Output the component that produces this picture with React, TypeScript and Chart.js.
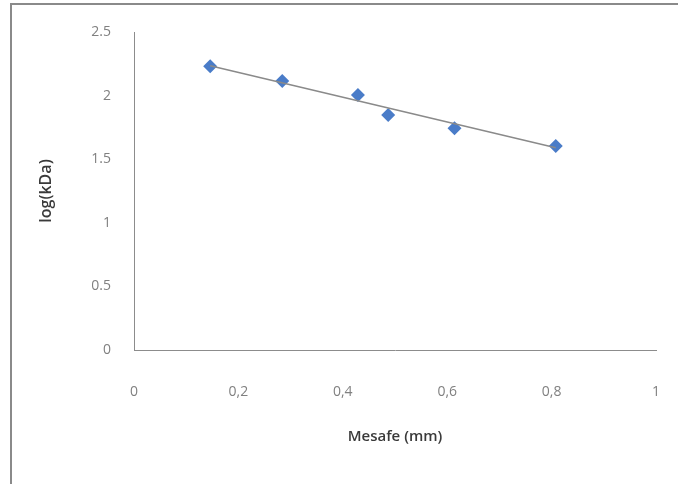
import React, { useEffect, useRef } from "react";
import { Chart, registerables } from "chart.js";

Chart.register(...registerables);

const distanceMm = [0.146, 0.284, 0.429, 0.487, 0.614, 0.808];
const logKDa = [2.23, 2.115, 2.005, 1.847, 1.743, 1.604];
const trendX = [0.146, 0.808];
const trendY = [2.235, 1.59];
const xTickLabels = ["0", "0,2", "0,4", "0,6", "0,8", "1"];
const yTickLabels = ["0", "0.5", "1", "1.5", "2", "2.5"];

const FONT = "'Open Sans', 'DejaVu Sans', sans-serif";

export default function App() {
  const ref = useRef<HTMLCanvasElement>(null);
  useEffect(() => {
    document.body.style.margin = "0";
    const canvas = ref.current;
    if (!canvas) return;
    const chart = new Chart(canvas, {
      type: "scatter",
      data: {
        datasets: [
          {
            label: "log(kDa)",
            data: distanceMm.map((x, i) => ({ x, y: logKDa[i] })),
            pointStyle: "rectRot",
            pointRadius: 7,
            pointHoverRadius: 7,
            backgroundColor: "#4a7cc8",
            borderColor: "#4a7cc8",
            borderWidth: 0,
            showLine: false,
            order: 2,
          },
          {
            label: "trend",
            data: trendX.map((x, i) => ({ x, y: trendY[i] })),
            showLine: true,
            pointRadius: 0,
            borderColor: "#8a8a8a",
            borderWidth: 1.5,
            order: 1,
          },
        ],
      },
      options: {
        responsive: false,
        animation: false,
        devicePixelRatio: 1,
        layout: { padding: { left: 0, top: 32, right: 22, bottom: 0 } },
        plugins: {
          legend: { display: false },
          tooltip: { enabled: false },
        },
        scales: {
          x: {
            type: "linear",
            min: 0,
            max: 1,
            afterFit: (s: any) => {
              s.height = 134;
              s.paddingLeft = 0;
              s.paddingRight = 0;
            },
            afterBuildTicks: (s: any) => {
              s.ticks = xTickLabels.map((_, i) => ({ value: i * 0.2 }));
            },
            grid: { display: false, drawTicks: false },
            border: { display: true, color: "#8c8c8c", width: 1 },
            ticks: {
              padding: 34,
              color: "#808080",
              font: { family: FONT, size: 14 },
              maxRotation: 0,
              autoSkip: false,
              callback: (_v: any, i: number) => xTickLabels[i],
            },
            title: {
              display: true,
              text: "Mesafe (mm)",
              color: "#3a3a3a",
              font: { family: FONT, size: 15, weight: "600" },
              padding: { top: 0, bottom: 38 },
            },
          },
          y: {
            type: "linear",
            min: 0,
            max: 2.5,
            afterFit: (s: any) => {
              s.width = 134;
              s.paddingTop = 0;
              s.paddingBottom = 0;
            },
            afterBuildTicks: (s: any) => {
              s.ticks = yTickLabels.map((_, i) => ({ value: i * 0.5 }));
            },
            grid: { display: false, drawTicks: false },
            border: { display: true, color: "#8c8c8c", width: 1 },
            ticks: {
              padding: 23,
              color: "#808080",
              font: { family: FONT, size: 14 },
              autoSkip: false,
              callback: (_v: any, i: number) => yTickLabels[i],
            },
            title: {
              display: true,
              text: "log(kDa)",
              color: "#3a3a3a",
              font: { family: FONT, size: 16, weight: "600" },
              padding: { top: 37, bottom: 0 },
            },
          },
        },
      },
    });
    return () => chart.destroy();
  }, []);

  return (
    <div style={{ position: "relative", width: 678, height: 484, background: "#fff" }}>
      <canvas ref={ref} width={678} height={484} style={{ display: "block" }} />
      <div
        style={{
          position: "absolute",
          left: 10,
          top: 3,
          right: 0,
          bottom: 0,
          borderTop: "2px solid #8a8a8a",
          borderLeft: "2px solid #8a8a8a",
          pointerEvents: "none",
        }}
      />
    </div>
  );
}
